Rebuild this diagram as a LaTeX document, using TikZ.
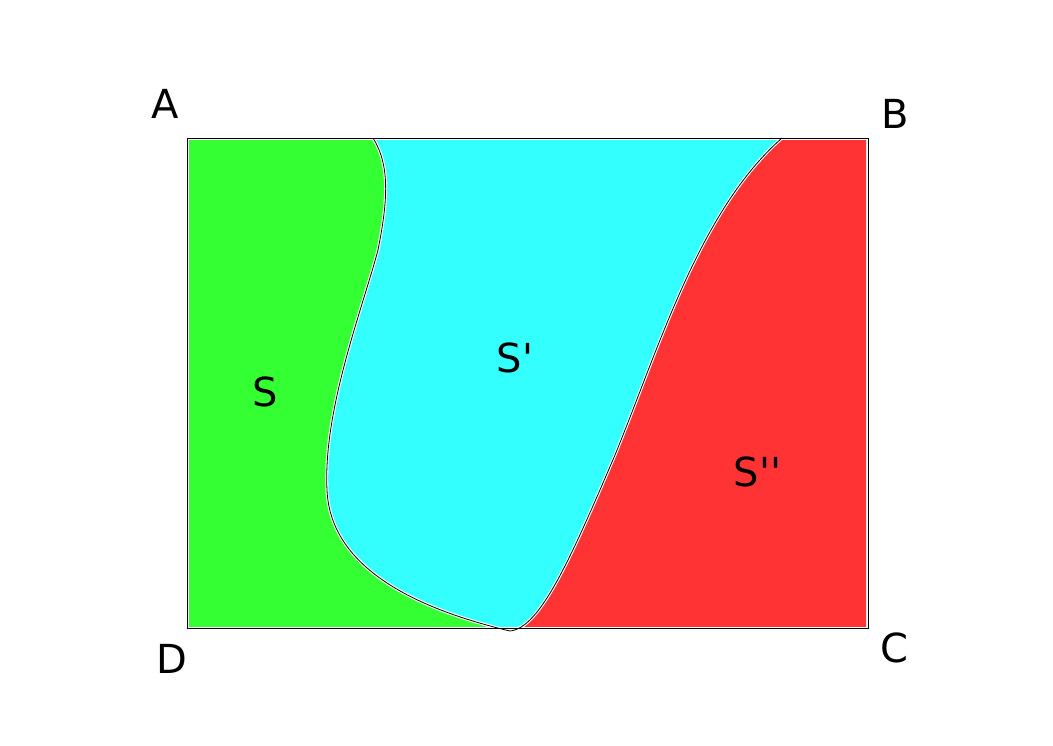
\documentclass[tikz,border=0pt]{standalone}
\usepackage{fontspec}
\setmainfont{DejaVu Sans}
\definecolor{regS}{HTML}{33FF33}
\definecolor{regSp}{HTML}{33FFFF}
\definecolor{regSpp}{HTML}{FF3333}
\begin{document}
\begin{tikzpicture}[x=1pt,y=-1pt,
  lbl/.style={anchor=base,inner sep=0pt,font=\fontsize{40}{48}\selectfont},
  border/.style={draw=black,line width=0.9pt},
  sepw/.style={draw=white,line width=3pt},
  sepb/.style={draw=black,line width=0.8pt}]
\useasboundingbox (0,0) rectangle (1053,745);
\coordinate (TL) at (187,138);
\coordinate (BR) at (868,628);
\coordinate (P1) at (373,138);
\coordinate (P2) at (510,631);
\coordinate (P3) at (782,138);
\begin{scope}
\clip (189,140) rectangle (866,626);
\fill[regS] (187,138) -- (P1) .. controls (390,165) and (388,200) .. (378,250)
  .. controls (362,310) and (323,410) .. (327,490)
  .. controls (330,560) and (400,605) .. (P2) -- (187,640) -- cycle;
\fill[regSp] (P1) .. controls (390,165) and (388,200) .. (378,250)
  .. controls (362,310) and (323,410) .. (327,490)
  .. controls (330,560) and (400,605) .. (P2)
  .. controls (540,628) and (570,560) .. (615,455)
  .. controls (660,345) and (700,210) .. (P3) -- cycle;
\fill[regSpp] (P2) .. controls (540,628) and (570,560) .. (615,455)
  .. controls (660,345) and (700,210) .. (P3) -- (870,130) -- (870,640) -- cycle;
\end{scope}
\draw[sepw] (P1) .. controls (390,165) and (388,200) .. (378,250)
  .. controls (362,310) and (323,410) .. (327,490)
  .. controls (330,560) and (400,605) .. (P2)
  .. controls (540,628) and (570,560) .. (615,455)
  .. controls (660,345) and (700,210) .. (P3);
\draw[sepb] (P1) .. controls (390,165) and (388,200) .. (378,250)
  .. controls (362,310) and (323,410) .. (327,490)
  .. controls (330,560) and (400,605) .. (P2)
  .. controls (540,628) and (570,560) .. (615,455)
  .. controls (660,345) and (700,210) .. (P3);
\draw[border] (TL) rectangle (BR);
\node[lbl] (A) at (165,118) {A};
\node[lbl] (B) at (895,128) {B};
\node[lbl] (C) at (894,662) {C};
\node[lbl] (D) at (172,673) {D};
\node[lbl] (S) at (265.5,406) {S};
\node[lbl] (Sp) at (515,372) {S\textquotesingle};
\node[lbl] (Spp) at (757.5,486) {S\textquotesingle\textquotesingle};
\end{tikzpicture}
\end{document}
